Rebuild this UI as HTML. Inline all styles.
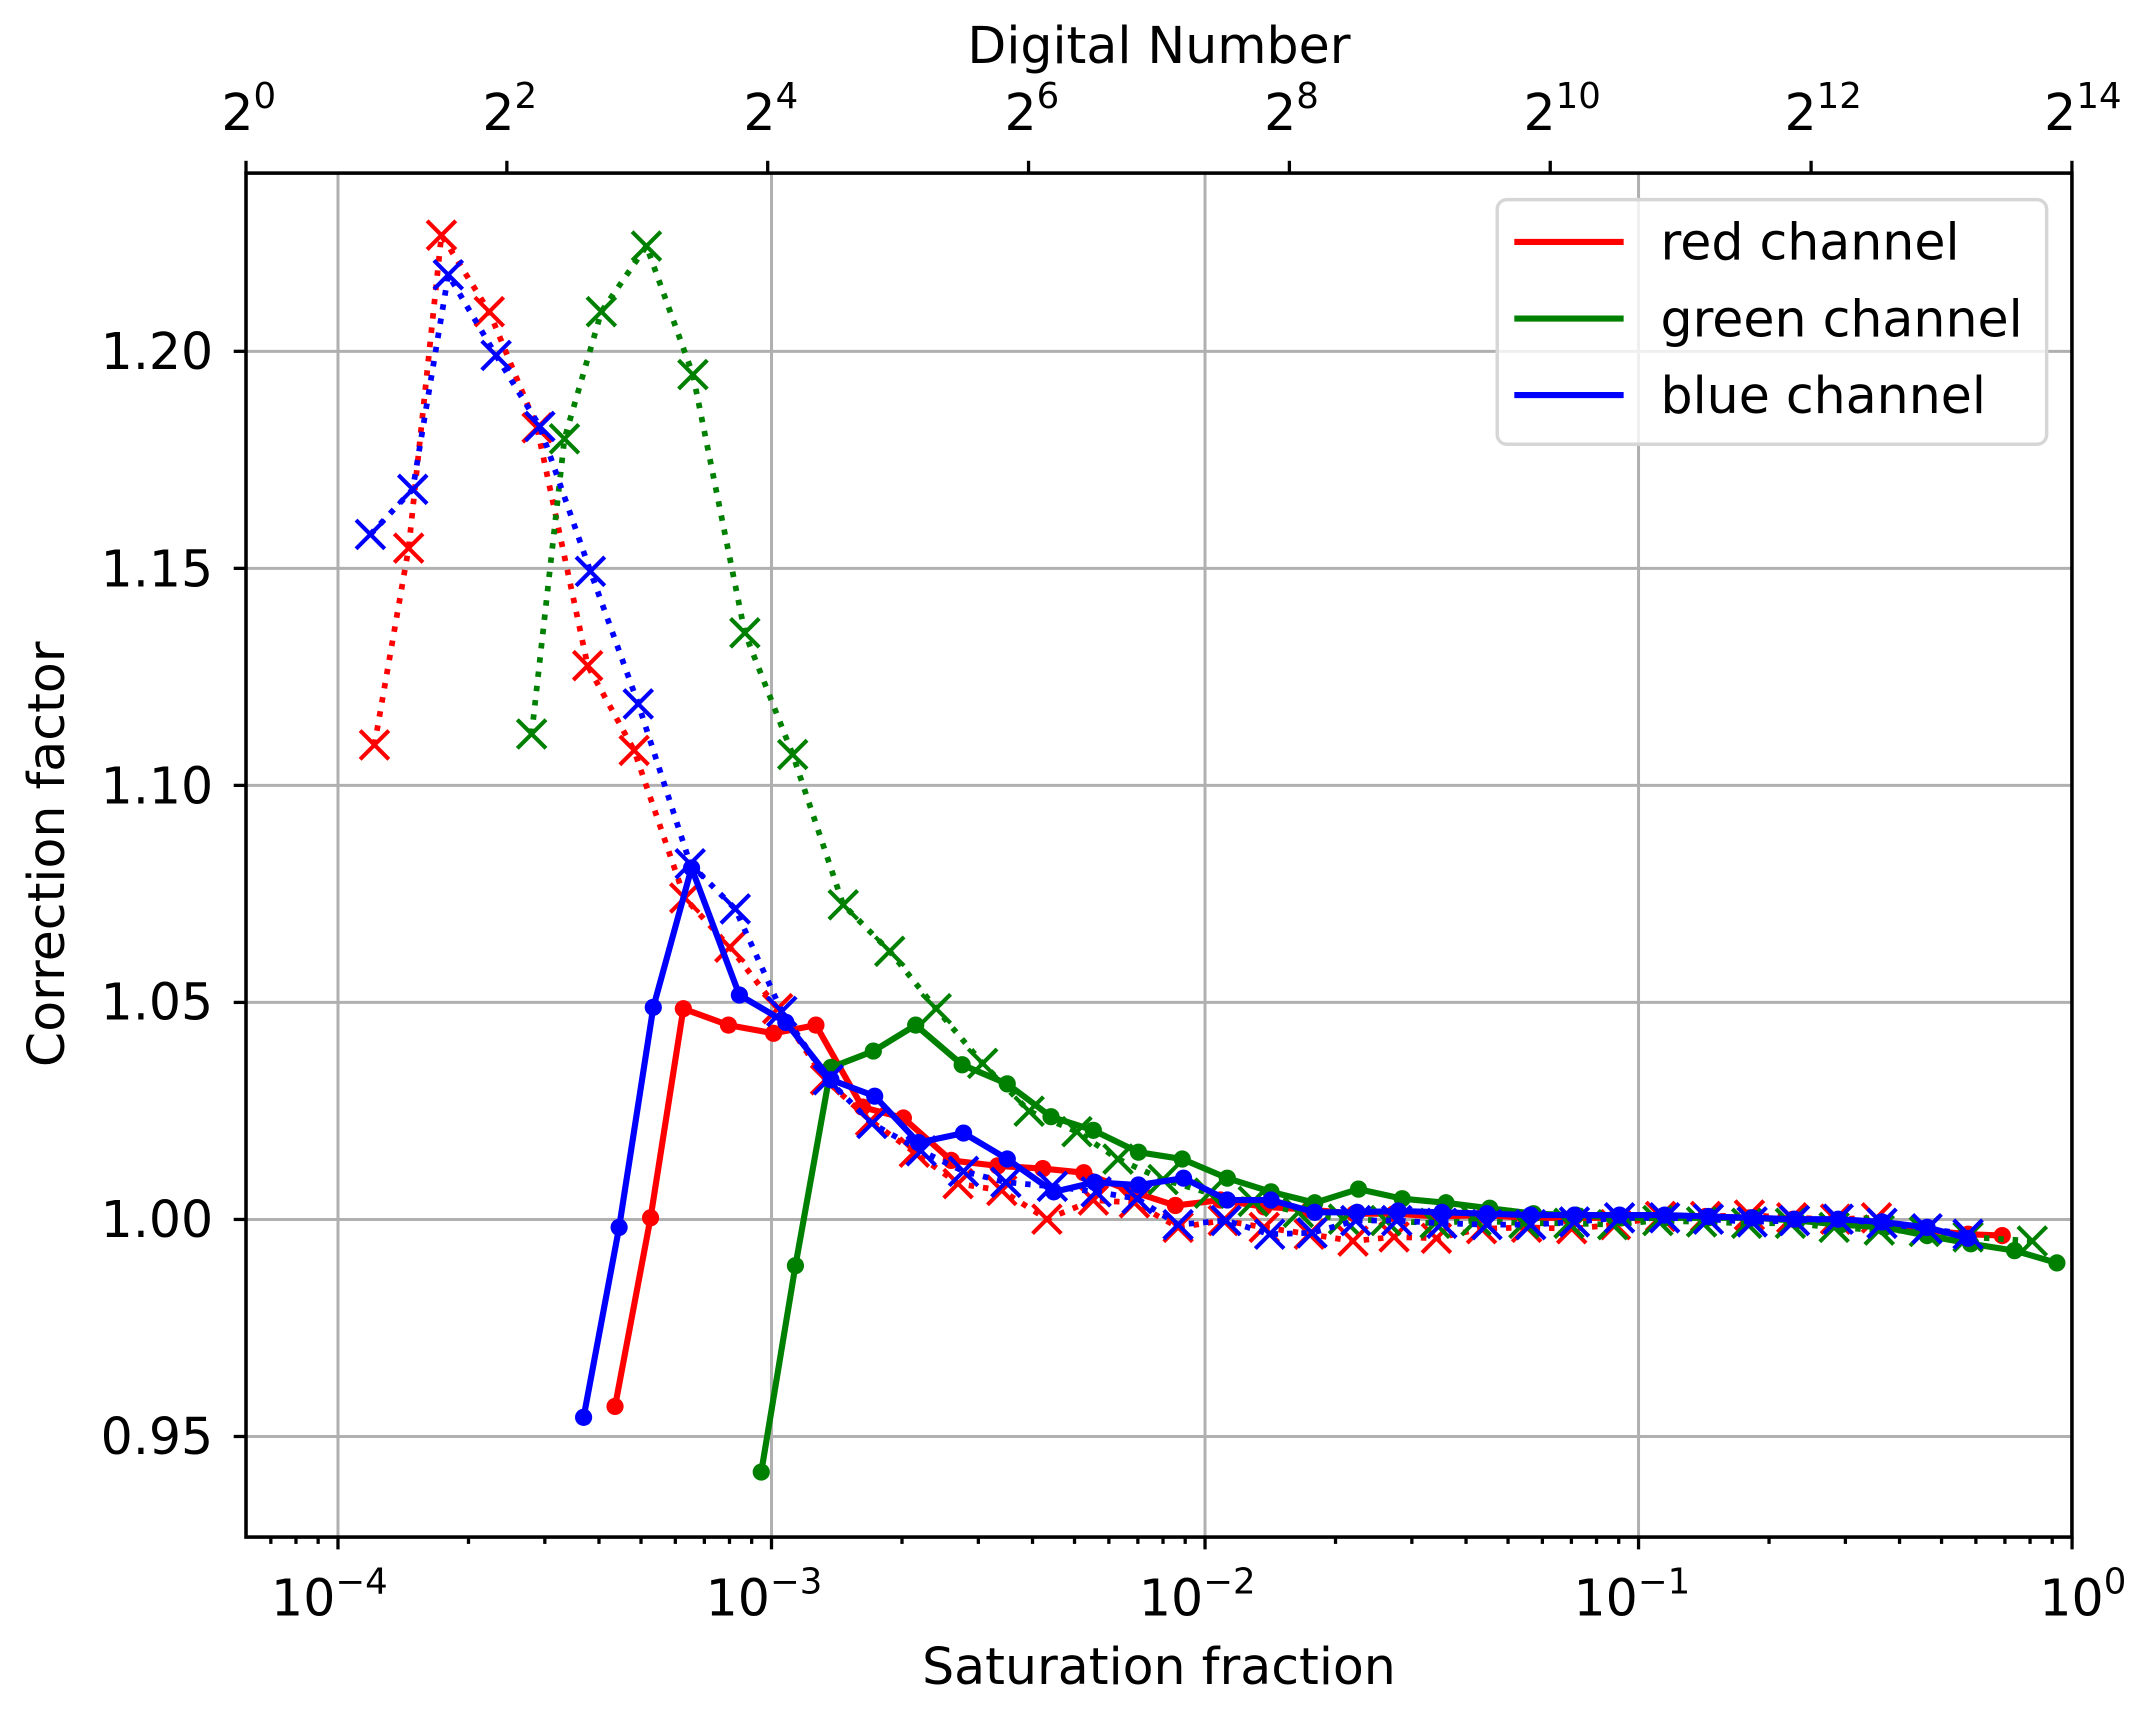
<!DOCTYPE html>
<html><head><meta charset="utf-8"><style>html,body{margin:0;padding:0;background:#fff}svg{display:block}text{font-family:"DejaVu Sans","Liberation Sans",sans-serif;fill:#000}</style></head>
<body>
<svg id="s" width="2143" height="1714" viewBox="0 0 1568 1254" xmlns="http://www.w3.org/2000/svg">
<rect width="1568" height="1254" fill="#fff"/>
<g id="grid" stroke="#b0b0b0" stroke-width="2.2"></g>
<g id="data"></g>
<g id="ticks" stroke="#000" stroke-width="2.4"></g>
<rect x="180" y="126.6" width="1336" height="998" fill="none" stroke="#000" stroke-width="2.6"/>
<g font-size="37" text-anchor="end">
<text x="156" y="270">1.20</text>
<text x="156" y="429">1.15</text>
<text x="156" y="588">1.10</text>
<text x="156" y="746">1.05</text>
<text x="156" y="905">1.00</text>
<text x="156" y="1064">0.95</text>
</g>
<g font-size="37" text-anchor="middle">
<text x="241" y="1182">10<tspan font-size="26" dy="-16">−4</tspan></text>
<text x="559" y="1182">10<tspan font-size="26" dy="-16">−3</tspan></text>
<text x="876" y="1182">10<tspan font-size="26" dy="-16">−2</tspan></text>
<text x="1194" y="1182">10<tspan font-size="26" dy="-16">−1</tspan></text>
<text x="1524" y="1182">10<tspan font-size="26" dy="-16">0</tspan></text>
</g>
<g font-size="37" text-anchor="middle">
<text x="182" y="95">2<tspan font-size="26" dy="-16">0</tspan></text>
<text x="373" y="95">2<tspan font-size="26" dy="-16">2</tspan></text>
<text x="564" y="95">2<tspan font-size="26" dy="-16">4</tspan></text>
<text x="755" y="95">2<tspan font-size="26" dy="-16">6</tspan></text>
<text x="945" y="95">2<tspan font-size="26" dy="-16">8</tspan></text>
<text x="1143" y="95">2<tspan font-size="26" dy="-16">10</tspan></text>
<text x="1334" y="95">2<tspan font-size="26" dy="-16">12</tspan></text>
<text x="1524" y="95">2<tspan font-size="26" dy="-16">14</tspan></text>
</g>
<text x="848" y="46" font-size="37" text-anchor="middle">Digital Number</text>
<text x="848" y="1232" font-size="37" text-anchor="middle">Saturation fraction</text>
<text transform="translate(47,625) rotate(-90)" font-size="37" text-anchor="middle">Correction factor</text>
<rect x="1095.5" y="146" width="402" height="179" rx="7" fill="#fff" fill-opacity="0.8" stroke="#d6d6d6" stroke-width="2.5"/>
<line x1="1108" y1="177" x2="1188" y2="177" stroke="#ff0000" stroke-width="4.5"/>
<line x1="1108" y1="233" x2="1188" y2="233" stroke="#008000" stroke-width="4.5"/>
<line x1="1108" y1="289" x2="1188" y2="289" stroke="#0000ff" stroke-width="4.5"/>
<g font-size="37"><text x="1215" y="190">red channel</text><text x="1215" y="246">green channel</text><text x="1215" y="302">blue channel</text></g>
</svg>
<script>
var NS="http://www.w3.org/2000/svg";
function el(p,t,a){var e=document.createElementNS(NS,t);for(var k in a)e.setAttribute(k,a[k]);p.appendChild(e);return e;}
var L=180,R=1516,T=126.6,B=1124.6,X0=247.3,D=317.2;
var grid=document.getElementById('grid'),ticks=document.getElementById('ticks'),data=document.getElementById('data');
for(var d=0;d<=4;d++){var x=X0+d*D;el(grid,'line',{x1:x,y1:T,x2:x,y2:B});el(ticks,'line',{x1:x,y1:B,x2:x,y2:B+9});}
for(var d=-5;d<0;d++){for(var m=2;m<=9;m++){var x=X0+(d+4+Math.log10(m))*D;if(x>L&&x<R)el(ticks,'line',{x1:x,y1:B,x2:x,y2:B+5});}}
var ys=[1.20,1.15,1.10,1.05,1.00,0.95];
ys.forEach(function(v){var y=257+(1.20-v)/0.05*158.8;el(grid,'line',{x1:L,y1:y,x2:R,y2:y});el(ticks,'line',{x1:L-9,y1:y,x2:L,y2:y});});
for(var k=0;k<=7;k++){var x=L+k*(R-L)/7;el(ticks,'line',{x1:x,y1:T-9,x2:x,y2:T});}
function P(s){return s.trim().split(/\)\s*,?\s*\(/).map(function(p){return p.replace(/[()]/g,'').split(',').map(Number);});}
function dotted(pts,c){el(data,'polyline',{points:pts.map(function(p){return p.join(',')}).join(' '),fill:'none',stroke:c,'stroke-width':4.2,'stroke-dasharray':'4 6.5'});
 pts.forEach(function(p){var s=10.5;el(data,'path',{d:'M'+(p[0]-s)+','+(p[1]-s)+'L'+(p[0]+s)+','+(p[1]+s)+'M'+(p[0]-s)+','+(p[1]+s)+'L'+(p[0]+s)+','+(p[1]-s),stroke:c,'stroke-width':3,fill:'none'});});}
function solid(pts,c){el(data,'polyline',{points:pts.map(function(p){return p.join(',')}).join(' '),fill:'none',stroke:c,'stroke-width':4.5,'stroke-linejoin':'round'});
 pts.forEach(function(p){el(data,'circle',{cx:p[0],cy:p[1],r:6.3,fill:c});});}
var rD=P("(274,545),(299,401),(323,172),(358,228),(393,313),(430,487),(464,549),(501,657),(534,693),(569,738),(604,790),(637,820),(669,843),(701,866),(733,871),(766,892),(800,878),(830,880),(862,898),(895,893),(925,898),(958,903),(990,908),(1020,905),(1051,906),(1084,899),(1117,898),(1150,899),(1182,896),(1215,890),(1248,890),(1280,889),(1311,891),(1343,892),(1373,891)");
var rS=P("(450,1029),(476,891),(500,738),(533,750),(566,756),(597,750),(631,810),(661,818),(696,849),(730,853),(763,855),(793,858),(829,872),(860,882),(893,878),(925,883),(958,885),(991,888),(1020,888),(1053,890),(1086,889),(1118,891),(1150,891),(1182,891),(1216,890),(1248,890),(1280,891),(1312,892),(1343,893),(1376,895),(1407,900),(1440,903),(1465,904)");
var bD=P("(271,391),(302,358),(328,201),(363,260),(395,312),(432,418),(467,515),(505,632),(538,665),(572,740),(606,790),(638,822),(674,842),(705,857),(736,865),(770,868),(802,872),(832,877),(862,896),(897,893),(929,903),(960,902),(992,893),(1022,893),(1055,895),(1088,896),(1120,896),(1152,894),(1185,891),(1218,891),(1250,892),(1282,894),(1313,893),(1345,892),(1377,895),(1410,899),(1440,903)");
var bS=P("(427,1037),(453,898),(478,737),(506,635),(541,728),(575,748),(608,790),(640,802),(672,836),(705,829),(737,848),(771,872),(801,865),(833,867),(866,862),(898,878),(930,878),(962,887),(993,887),(1023,886),(1055,887),(1088,888),(1120,889),(1152,889),(1185,889),(1218,889),(1250,890),(1282,891),(1313,892),(1345,892),(1377,894),(1410,898),(1440,906)");
var gD=P("(389,537),(413,321),(440,228),(473,180),(507,274),(545,463),(580,552),(617,662),(651,696),(685,738),(719,778),(753,813),(788,828),(818,848),(851,863),(885,873),(917,879),(950,887),(983,892),(1014,893),(1050,895),(1080,893),(1115,895),(1148,895),(1180,896),(1213,893),(1245,894),(1278,895),(1310,895),(1342,898),(1375,900),(1408,901),(1440,905),(1487,908)");
var gS=P("(557,1077),(582,926),(608,781),(639,769),(670,750),(704,779),(737,793),(769,817),(800,827),(833,843),(865,848),(898,862),(930,872),(962,880),(994,870),(1026,877),(1058,880),(1090,884),(1122,888),(1153,889),(1186,891),(1218,891),(1250,891),(1282,891),(1315,893),(1347,896),(1379,898),(1410,904),(1442,910),(1474,915),(1505,924)");
dotted(rD,'#ff0000');solid(rS,'#ff0000');
dotted(gD,'#008000');solid(gS,'#008000');
dotted(bD,'#0000ff');solid(bS,'#0000ff');
</script>
</body></html>
